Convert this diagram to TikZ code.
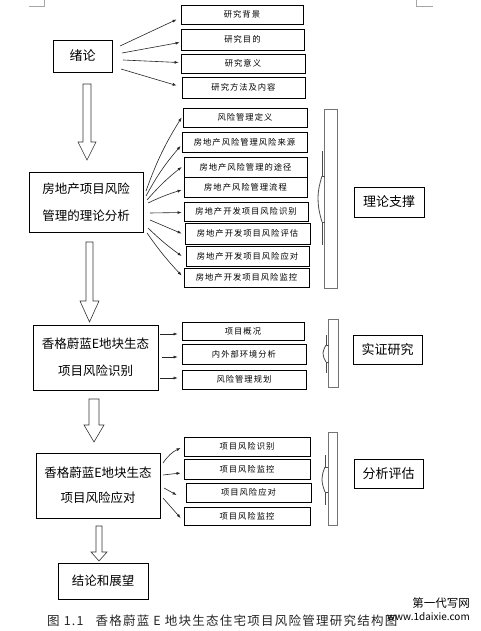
\documentclass[tikz,border=0pt]{standalone}
\usepackage{fontspec}
\usetikzlibrary{arrows.meta,calc}
\newfontfamily\cjk{Noto Sans CJK SC}
\newfontfamily\cjks{Noto Sans CJK SC}[LetterSpace=12]
\newfontfamily\cjkc{Noto Sans CJK SC}[LetterSpace=10]
\begin{document}
\begin{tikzpicture}[x=1pt,y=-1pt,
  bx/.style={draw,line width=0.8pt,inner sep=0pt,align=center},
  bigbox/.style={bx,font=\cjk\fontsize{12.5}{27}\selectfont},
  smallbox/.style={bx,font=\cjks\fontsize{8.3}{10}\selectfont,text=black},
  arr/.style={-{Latex[length=4pt,width=3pt]},line width=0.6pt,black!85},
  hollow/.style={draw,line width=0.6pt,black!80,fill=white},
  brace/.style={line width=0.8pt,black!70},
  bracerect/.style={draw,line width=1pt,black!55}]
\useasboundingbox (0,0) rectangle (480,631);
\fill[white] (0,0) rectangle (480,631);
% corner marks
\draw[black!35,line width=0.6pt] (29,6) -- (44,6) -- (44,0);
\draw[black!35,line width=0.6pt] (416,0) -- (416,6) -- (433,6);

% ---- section 1
\node[bigbox,font=\cjk\fontsize{13}{15}\selectfont,minimum width=59pt,minimum height=32pt] (intro) at (82.5,56) {绪论};
\node[smallbox,minimum width=122pt,minimum height=19pt] (b1) at (242,14.5) {研究背景};
\node[smallbox,minimum width=123pt,minimum height=21pt] (b2) at (242.5,39.5) {研究目的};
\node[smallbox,minimum width=124pt,minimum height=19pt] (b3) at (243,63.5) {研究意义};
\node[smallbox,minimum width=123pt,minimum height=21pt] (b4) at (243.5,87.5) {研究方法及内容};
\coordinate (i1) at (120,46);
\coordinate (i2) at (122,53);
\coordinate (i3) at (123,60);
\coordinate (i4) at (121,69);
\draw[arr] (i1) -- ($(b1.west)+(-4,5)$);
\draw[arr] (i2) -- ($(b2.west)+(-1,3)$);
\draw[arr] (i3) -- ($(b3.west)+(-2,-1)$);
\draw[arr] (i4) -- ($(b4.west)+(-5,-2)$);

% hollow arrow 1
\draw[hollow] (83,84) -- (91,84) -- (91,142) -- (96,142) -- (87,160) -- (78,142) -- (83,142) -- cycle;

% ---- section 2
\node[bigbox,minimum width=114pt,minimum height=60pt] (T) at (86,202) {房地产项目风险\\管理的理论分析};
\node[smallbox,minimum width=124pt,minimum height=19pt] (t1) at (245,117.5) {风险管理定义};
\node[smallbox,minimum width=125pt,minimum height=20pt] (t2) at (244.5,142) {房地产风险管理风险来源};
\node[smallbox,minimum width=123pt,minimum height=20pt] (t3) at (245.5,167) {房地产风险管理的途径};
\node[smallbox,minimum width=123pt,minimum height=20pt] (t4) at (245.5,187) {房地产风险管理流程};
\node[smallbox,minimum width=124pt,minimum height=19pt] (t5) at (246,211.5) {房地产开发项目风险识别};
\node[smallbox,minimum width=125pt,minimum height=21pt] (t6) at (247.5,233.5) {房地产开发项目风险评估};
\node[smallbox,minimum width=123pt,minimum height=20pt] (t7) at (247.5,256) {房地产开发项目风险应对};
\node[smallbox,minimum width=125pt,minimum height=19pt] (t8) at (246.5,277.5) {房地产开发项目风险监控};
\coordinate (s1) at (146,191);
\coordinate (s2) at (146,196);
\coordinate (s3) at (147,200);
\coordinate (s4) at (148,203);
\coordinate (s5) at (150,213);
\coordinate (s6) at (150,220);
\coordinate (s7) at (148,228);
\coordinate (s8) at (147,233);
\draw[arr] (s1) to[bend left=6] ($(t1.west)+(-1,0)$);
\draw[arr] (s2) to[bend left=6] ($(t2.west)+(-1,4)$);
\draw[arr] (s3) to[bend left=5] ($(t3.west)+(-2,0)$);
\draw[arr] (s4) to[bend left=4] ($(t4.west)+(-2,3)$);
\draw[arr] (s5) -- ($(t5.west)+(-2,1)$);
\draw[arr] (s6) -- ($(t6.west)+(-3,0)$);
\draw[arr] (s7) to[bend right=4] ($(t7.west)+(-4,0)$);
\draw[arr] (s8) to[bend right=4] ($(t8.west)+(-2,-2)$);
% brace 1
\draw[bracerect] (324,110) rectangle (337,288);
\draw[brace] (322,151) -- (322,176) -- (325,176);
\draw[brace] (322,176) .. controls (319,186) and (318,192) .. (318,198) .. controls (318,205) and (319,212) .. (322,222);
\draw[brace] (325,222) -- (322,222) -- (322,245);
\node[bigbox,font=\cjk\fontsize{13}{15}\selectfont,minimum width=70pt,minimum height=30pt] (TL) at (389,202) {理论支撑};

% hollow arrow 2
\draw[hollow] (86,242) -- (93,242) -- (93,301) -- (99,301) -- (89.5,322) -- (80,301) -- (86,301) -- cycle;

% ---- section 3
\node[bigbox,minimum width=125pt,minimum height=65pt] (R) at (95.5,357.5) {香格蔚蓝E地块生态\\项目风险识别};
\node[smallbox,minimum width=122pt,minimum height=18pt] (r1) at (243,331) {项目概况};
\node[smallbox,minimum width=124pt,minimum height=20pt] (r2) at (244,354) {内外部环境分析};
\node[smallbox,minimum width=124pt,minimum height=19pt] (r3) at (244,379.5) {风险管理规划};
\coordinate (q1) at (160,334);
\coordinate (q2) at (162,357);
\coordinate (q3) at (160,378);
\draw[arr] (q1) -- (q1 -| {$(r1.west)+(-4,0)$});
\draw[arr] (q2) -- (q2 -| {$(r2.west)+(-4,0)$});
\draw[arr] (q3) -- (q3 -| {$(r3.west)+(-4,0)$});
% brace 2
\draw[bracerect] (328,319) rectangle (338,387);
\draw[brace] (326,335) -- (326,345) -- (329,345);
\draw[brace] (326,345) .. controls (324,349) and (323,351) .. (323,353) .. controls (323,356) and (324,359) .. (326,362);
\draw[brace] (329,362) -- (326,362) -- (326,373);
\node[bigbox,font=\cjk\fontsize{13}{15}\selectfont,minimum width=69pt,minimum height=29pt] (RL) at (387.5,349.5) {实证研究};

% hollow arrow 3
\draw[hollow] (89,399) -- (99,399) -- (99,425) -- (104,425) -- (94,442) -- (84,425) -- (89,425) -- cycle;

% ---- section 4
\node[bigbox,font=\cjk\fontsize{12.5}{25}\selectfont,minimum width=124pt,minimum height=65pt] (P) at (98,485.5) {香格蔚蓝E地块生态\\项目风险应对};
\node[smallbox,minimum width=126pt,minimum height=19pt] (p1) at (247,446.5) {项目风险识别};
\node[smallbox,minimum width=126pt,minimum height=20pt] (p2) at (247,469) {项目风险监控};
\node[smallbox,minimum width=125pt,minimum height=19pt] (p3) at (248.5,492.5) {项目风险应对};
\node[smallbox,minimum width=126pt,minimum height=18pt] (p4) at (247,516) {项目风险监控};
\coordinate (u1) at (163,463);
\coordinate (u2) at (163,475);
\coordinate (u3) at (164,488);
\coordinate (u4) at (163,498);
\draw[arr] (u1) to[bend left=15] ($(p1.west)+(-3,1.5)$);
\draw[arr] (u2) -- ($(p2.west)+(-3,4)$);
\draw[arr] (u3) -- ($(p3.west)+(-9,2.5)$);
\draw[arr] (u4) -- ($(p4.west)+(-3,2)$);
% brace 3
\draw[bracerect] (328,432) rectangle (337,525);
\draw[brace] (325,455) -- (325,467) -- (328,467);
\draw[brace] (325,467) .. controls (323,472) and (322,475) .. (322,479) .. controls (322,483) and (323,487) .. (325,492);
\draw[brace] (328,492) -- (325,492) -- (325,505);
\node[bigbox,font=\cjk\fontsize{13}{15}\selectfont,minimum width=69pt,minimum height=29pt] (PL) at (388.5,473.5) {分析评估};

% hollow arrow 4
\draw[hollow] (96,526) -- (102,526) -- (102,552) -- (107,552) -- (99,561) -- (91,552) -- (96,552) -- cycle;

% ---- conclusion
\node[bigbox,font=\cjk\fontsize{12.5}{15}\selectfont,minimum width=90pt,minimum height=36pt] (C) at (103,581) {结论和展望};

% caption
\node[anchor=base west,inner sep=0pt,font=\cjkc\fontsize{12.5}{14}\selectfont,text=black!85] (cap) at (47,625) {图 1.1\hspace{12pt}香格蔚蓝 E 地块生态住宅项目风险管理研究结构图};
% watermark
\node[anchor=east,inner sep=0pt,font=\cjk\fontsize{11.5}{12}\selectfont] (wm1) at (470,603) {第一代写网};
\node[anchor=east,inner sep=0pt,font=\cjk\fontsize{10}{12}\selectfont] (wm2) at (470,617) {www.1daixie.com};
\end{tikzpicture}
\end{document}
